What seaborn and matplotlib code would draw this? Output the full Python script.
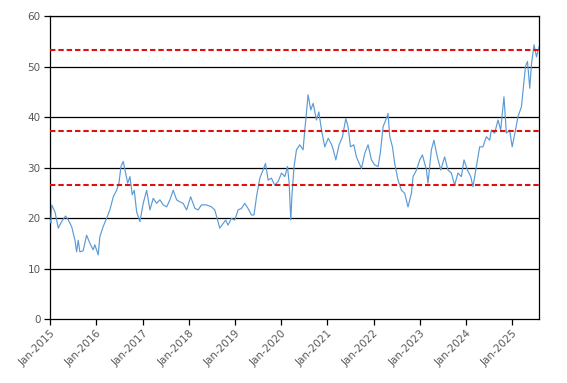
import matplotlib
matplotlib.use("Agg")
import matplotlib.pyplot as plt
import matplotlib.dates as mdates
import seaborn as sns
import pandas as pd

dates = [
    "2015-01-01", "2015-01-06", "2015-01-12", "2015-02-07", "2015-03-05", "2015-04-01", "2015-05-02",
    "2015-05-23", "2015-06-19", "2015-07-15", "2015-07-28", "2015-08-10", "2015-08-23",
    "2015-09-18", "2015-10-15", "2015-11-10", "2015-12-06", "2015-12-19", "2016-01-15",
    "2016-01-28", "2016-02-23", "2016-03-21", "2016-04-16", "2016-05-13", "2016-06-09",
    "2016-06-27", "2016-07-13", "2016-07-31", "2016-08-14", "2016-09-04", "2016-09-22",
    "2016-10-10", "2016-10-26", "2016-11-14", "2016-12-10", "2017-01-05",
    "2017-02-01", "2017-02-27", "2017-03-25", "2017-04-21", "2017-05-17", "2017-06-12",
    "2017-07-09", "2017-08-04", "2017-08-30", "2017-09-26", "2017-10-22", "2017-11-17",
    "2017-12-14", "2018-01-15", "2018-02-18", "2018-03-15", "2018-04-11", "2018-05-20",
    "2018-06-29", "2018-07-25", "2018-08-12", "2018-09-02", "2018-09-28", "2018-10-19",
    "2018-11-07", "2018-12-03", "2018-12-30", "2019-01-25", "2019-02-21",
    "2019-03-19", "2019-04-14", "2019-05-11", "2019-05-31", "2019-06-20", "2019-07-16",
    "2019-08-11", "2019-08-30", "2019-09-20", "2019-10-16", "2019-11-11", "2019-12-07",
    "2020-01-04", "2020-01-30", "2020-02-20", "2020-03-04", "2020-03-17", "2020-03-27",
    "2020-04-12", "2020-05-01", "2020-05-27", "2020-06-22", "2020-07-11", "2020-08-01",
    "2020-08-22", "2020-09-10", "2020-10-06", "2020-10-25", "2020-11-15", "2020-12-11",
    "2021-01-07", "2021-02-03", "2021-02-16", "2021-03-08", "2021-04-03", "2021-04-30",
    "2021-05-26", "2021-06-13", "2021-07-02", "2021-07-28", "2021-08-18", "2021-09-27",
    "2021-10-23", "2021-11-18", "2021-12-15", "2022-01-10", "2022-02-06", "2022-02-24",
    "2022-03-17", "2022-04-12", "2022-04-25", "2022-05-09", "2022-05-30", "2022-06-17",
    "2022-07-13", "2022-08-09", "2022-09-04", "2022-09-30", "2022-10-27", "2022-11-09",
    "2022-12-06", "2023-01-01", "2023-01-22", "2023-02-23", "2023-03-07", "2023-04-03",
    "2023-04-23", "2023-05-20", "2023-06-16", "2023-07-17", "2023-08-12", "2023-09-08",
    "2023-10-04", "2023-10-30", "2023-11-26", "2023-12-17", "2024-01-13", "2024-02-08",
    "2024-02-26", "2024-03-24", "2024-04-19", "2024-05-15", "2024-06-11", "2024-07-07",
    "2024-07-20", "2024-08-15", "2024-09-11", "2024-10-02", "2024-10-28", "2024-11-16",
    "2024-12-12", "2025-01-01", "2025-01-27", "2025-02-16", "2025-03-15", "2025-03-28",
    "2025-04-16", "2025-05-02", "2025-05-20", "2025-06-03", "2025-06-23", "2025-07-12",
    "2025-08-01",
]
values = [
    19.5, 19.0, 22.6, 21.2, 18.0, 19.3, 20.4,
    19.6, 18.3, 15.6, 13.3, 15.6, 13.3,
    13.5, 16.6, 15.0, 13.7, 14.7, 12.7,
    16.3, 18.3, 19.9, 21.6, 24.2, 25.5,
    26.9, 30.2, 31.2, 29.5, 26.9, 28.2,
    24.6, 25.5, 21.2, 19.3, 22.9,
    25.5, 21.6, 23.9, 22.9, 23.6, 22.6,
    22.2, 23.6, 25.5, 23.6, 23.2, 22.9,
    21.6, 24.2, 21.9, 21.6, 22.6, 22.6,
    22.2, 21.6, 19.9, 18.0, 18.9, 19.6,
    18.6, 19.9, 19.6, 21.6, 21.9,
    22.9, 21.9, 20.6, 20.6, 24.2, 27.9,
    29.5, 30.8, 27.5, 27.9, 26.5, 27.2,
    28.9, 28.2, 30.2, 26.9, 19.6, 24.9,
    30.2, 33.5, 34.5, 33.5, 38.8, 44.4,
    41.4, 42.7, 39.4, 41.0, 37.4, 34.1,
    35.8, 34.5, 33.5, 31.5, 34.5, 36.1,
    39.7, 38.1, 34.1, 34.5, 32.1, 29.8,
    32.8, 34.5, 31.5, 30.5, 30.2, 33.1,
    38.1, 39.7, 40.7, 36.1, 34.1, 30.8,
    27.5, 25.5, 24.9, 22.2, 24.9, 28.2,
    29.5, 31.5, 32.5, 29.5, 26.9, 33.5,
    35.4, 32.1, 29.5, 32.1, 29.5, 28.9,
    26.5, 28.9, 28.2, 31.5, 29.5, 28.2,
    26.2, 30.2, 34.1, 34.1, 36.1, 35.4,
    37.4, 36.8, 39.4, 37.4, 44.0, 36.8,
    37.4, 34.1, 37.4, 40.1, 42.0, 45.3,
    50.0, 51.0, 45.7, 50.6, 54.3, 51.9,
    53.9,
]
ref_levels = [53.3, 37.2, 26.6]
y_ticks = [0, 10, 20, 30, 40, 50, 60]

df = pd.DataFrame({"date": pd.to_datetime(dates), "value": values})

sns.set_style("white")
plt.rcParams["font.family"] = ["DejaVu Sans"]

fig = plt.figure(figsize=(5.67, 3.83), dpi=100)
ax = fig.add_axes([0.0887, 0.1671, 0.9506 - 0.0887, 0.9582 - 0.1671])

for yv in y_ticks[1:]:
    ax.axhline(yv, color="black", lw=0.9, zorder=1)

sns.lineplot(data=df, x="date", y="value", ax=ax, color="#5B9BD5", lw=0.85, zorder=3)

for lv in ref_levels:
    ax.axhline(lv, color="#DD1111", lw=1.5, linestyle=(0, (2.6, 1.4)), zorder=4)

ax.set_xlim(pd.Timestamp("2015-01-01"), pd.Timestamp("2025-08-01"))
ax.set_ylim(0, 60)
ax.set_yticks(y_ticks)
ax.xaxis.set_major_locator(mdates.YearLocator(1, month=1, day=1))
ax.xaxis.set_major_formatter(mdates.DateFormatter("%b-%Y"))
ax.set_xlabel("")
ax.set_ylabel("")

for s in ax.spines.values():
    s.set_color("black")
    s.set_linewidth(0.9)

ax.tick_params(axis="both", which="major", direction="out", length=4, width=0.9,
               color="black", labelsize=7.5, labelcolor="#595959", pad=3,
               bottom=True, left=True)
for lab in ax.get_xticklabels():
    lab.set_rotation(45)
    lab.set_ha("right")
    lab.set_rotation_mode("anchor")

fig.savefig("out.png", dpi=100)
